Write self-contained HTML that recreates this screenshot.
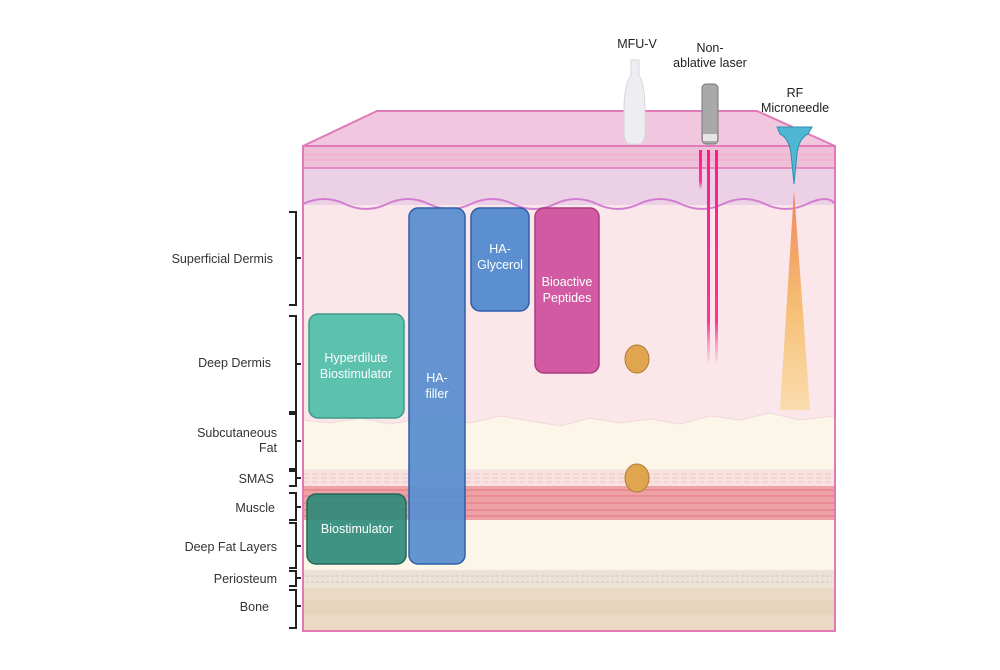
<!DOCTYPE html>
<html><head><meta charset="utf-8"><style>
body{margin:0;background:#fff;width:1000px;height:670px;overflow:hidden}
svg{display:block;font-family:"Liberation Sans",sans-serif}
</style></head><body>
<svg width="1000" height="670" viewBox="0 0 1000 670">
<defs>
<linearGradient id="rf" x1="0" y1="0" x2="0" y2="1">
<stop offset="0" stop-color="#f07a50" stop-opacity="0.9"/>
<stop offset="0.5" stop-color="#f4b45a" stop-opacity="0.85"/>
<stop offset="1" stop-color="#f8d070" stop-opacity="0.5"/>
</linearGradient>
<linearGradient id="las" x1="0" y1="0" x2="0" y2="1">
<stop offset="0" stop-color="#ff1a8c"/><stop offset="0.8" stop-color="#ff3399"/><stop offset="1" stop-color="#ff66b3" stop-opacity="0"/>
</linearGradient>
</defs>
<polygon points="377,111 757,111 835,146 303,146" fill="#f1c7df" stroke="#e07ab8" stroke-width="2"/>
<rect x="303" y="146" width="532" height="22" fill="#efbfd8"/>
<line x1="303" y1="155" x2="835" y2="155" stroke="#f4a8cc" stroke-width="1"/>
<line x1="303" y1="160" x2="835" y2="160" stroke="#f4a8cc" stroke-width="1"/>
<rect x="303" y="168" width="532" height="40" fill="#ecd0e6"/>
<rect x="303" y="205" width="532" height="220" fill="#fbe6ea"/>
<path d="M303,204 q21,-10 42,0 t42,0 t42,0 t42,0 t42,0 t42,0 t42,0 t42,0 t42,0 t42,0 t42,0 t42,0 t28,0" fill="none" stroke="#d27ed0" stroke-width="2"/>
<path d="M303,420 L330,423 L360,418 L390,424 L430,417 L470,423 L500,416 L530,421 L560,426 L590,418 L620,423 L650,419 L680,424 L710,416 L740,420 L770,413 L800,420 L835,416 V470 H303Z" fill="#fcf6e8" stroke="#f2d8dc" stroke-width="1"/>
<rect x="303" y="470" width="532" height="18" fill="#f8e2e0"/>
<path d="M303,474 H835 M303,478 H835 M303,482 H835" stroke="#f0c4c8" stroke-width="1" stroke-dasharray="6 3"/>
<rect x="303" y="486" width="532" height="34" fill="#eea2a6"/>
<path d="M303,490 H835 M303,496 H835 M303,503 H835 M303,510 H835 M303,516 H835" stroke="#e3777f" stroke-width="1"/>
<rect x="303" y="520" width="532" height="50" fill="#fcf6e8"/>
<rect x="303" y="570" width="532" height="18" fill="#ebe4d6"/>
<path d="M306,576 H832 M306,582 H832" stroke="#cfc6b6" stroke-width="1" stroke-dasharray="3 2"/>
<rect x="303" y="588" width="532" height="43" fill="#ebd9c4"/>
<rect x="303" y="600" width="532" height="15" fill="#e8d3bd"/>
<rect x="303" y="146" width="532" height="485" fill="none" stroke="#e07ab8" stroke-width="2"/>
<line x1="303" y1="168" x2="835" y2="168" stroke="#e07ab8" stroke-width="1.5"/>
<polygon points="794,190 780,410 810,410" fill="url(#rf)"/>
<rect x="699" y="150" width="3" height="40" fill="url(#las)"/>
<rect x="707" y="150" width="3" height="215" fill="url(#las)"/>
<rect x="715" y="150" width="3" height="215" fill="url(#las)"/>
<path d="M631,60 h8 v15 q6,10 6,35 v22 q0,8 -4,12 h-13 q-4,-4 -4,-12 v-22 q0,-25 7,-35z" fill="#eeeef2" stroke="#d6d6de"/>
<rect x="702" y="84" width="16" height="60" rx="4" fill="#a9a9a9" stroke="#777"/>
<rect x="703" y="134" width="14" height="7" fill="#e6e6e6"/>
<path d="M777,127 h35 l-4,7 q-9,4 -11,20 l-3,30 l-3,-30 q-2,-16 -11,-20z" fill="#4fb7d3" stroke="#2f8fb0"/>
<ellipse cx="637" cy="359" rx="12" ry="14" fill="#e0a64f" stroke="#b07a30"/>
<ellipse cx="637" cy="478" rx="12" ry="14" fill="#e0a64f" stroke="#b07a30"/>
<rect x="309" y="314" width="95" height="104" rx="9" fill="#5cc1ad" stroke="#3d9a88" stroke-width="1.5"/>
<rect x="307" y="494" width="99" height="70" rx="9" fill="#2f8a78" fill-opacity="0.92" stroke="#23675a" stroke-width="1.5"/>
<rect x="409" y="208" width="56" height="356" rx="9" fill="#5b8fd0" fill-opacity="0.95" stroke="#2f5ea8" stroke-width="1.5"/>
<rect x="471" y="208" width="58" height="103" rx="9" fill="#5b8fd0" stroke="#2f5ea8" stroke-width="1.5"/>
<rect x="535" y="208" width="64" height="165" rx="9" fill="#d15aa2" stroke="#a83d80" stroke-width="1.5"/>
<g fill="#fff" font-size="12.5" text-anchor="middle">
<text x="356" y="362">Hyperdilute</text><text x="356" y="378">Biostimulator</text>
<text x="357" y="533">Biostimulator</text>
<text x="437" y="382">HA-</text><text x="437" y="398">filler</text>
<text x="500" y="253">HA-</text><text x="500" y="269">Glycerol</text>
<text x="567" y="286">Bioactive</text><text x="567" y="302">Peptides</text>
</g>
<g fill="#222" font-size="12.5" text-anchor="middle">
<text x="637" y="48">MFU-V</text>
<text x="710" y="52">Non-</text><text x="710" y="67">ablative laser</text>
<text x="795" y="97">RF</text><text x="795" y="112">Microneedle</text>
</g>
<g fill="none" stroke="#222" stroke-width="2">
<path d="M289,212 h7 v93 h-7 M296,258 h5"/>
<path d="M289,316 h7 v96 h-7 M296,364 h5"/>
<path d="M289,414 h7 v55 h-7 M296,441 h5"/>
<path d="M289,471 h7 v15 h-7 M296,478 h5"/>
<path d="M289,493 h7 v27 h-7 M296,507 h5"/>
<path d="M289,523 h7 v45 h-7 M296,546 h5"/>
<path d="M289,571 h7 v15 h-7 M296,578 h5"/>
<path d="M289,590 h7 v38 h-7 M296,606 h5"/>
</g>
<g fill="#333" font-size="12.5" text-anchor="end">
<text x="273" y="263">Superficial Dermis</text>
<text x="271" y="367">Deep Dermis</text>
<text x="277" y="437">Subcutaneous</text><text x="277" y="452">Fat</text>
<text x="274" y="483">SMAS</text>
<text x="275" y="512">Muscle</text>
<text x="277" y="551">Deep Fat Layers</text>
<text x="277" y="583">Periosteum</text>
<text x="269" y="611">Bone</text>
</g>
</svg>
</body></html>
